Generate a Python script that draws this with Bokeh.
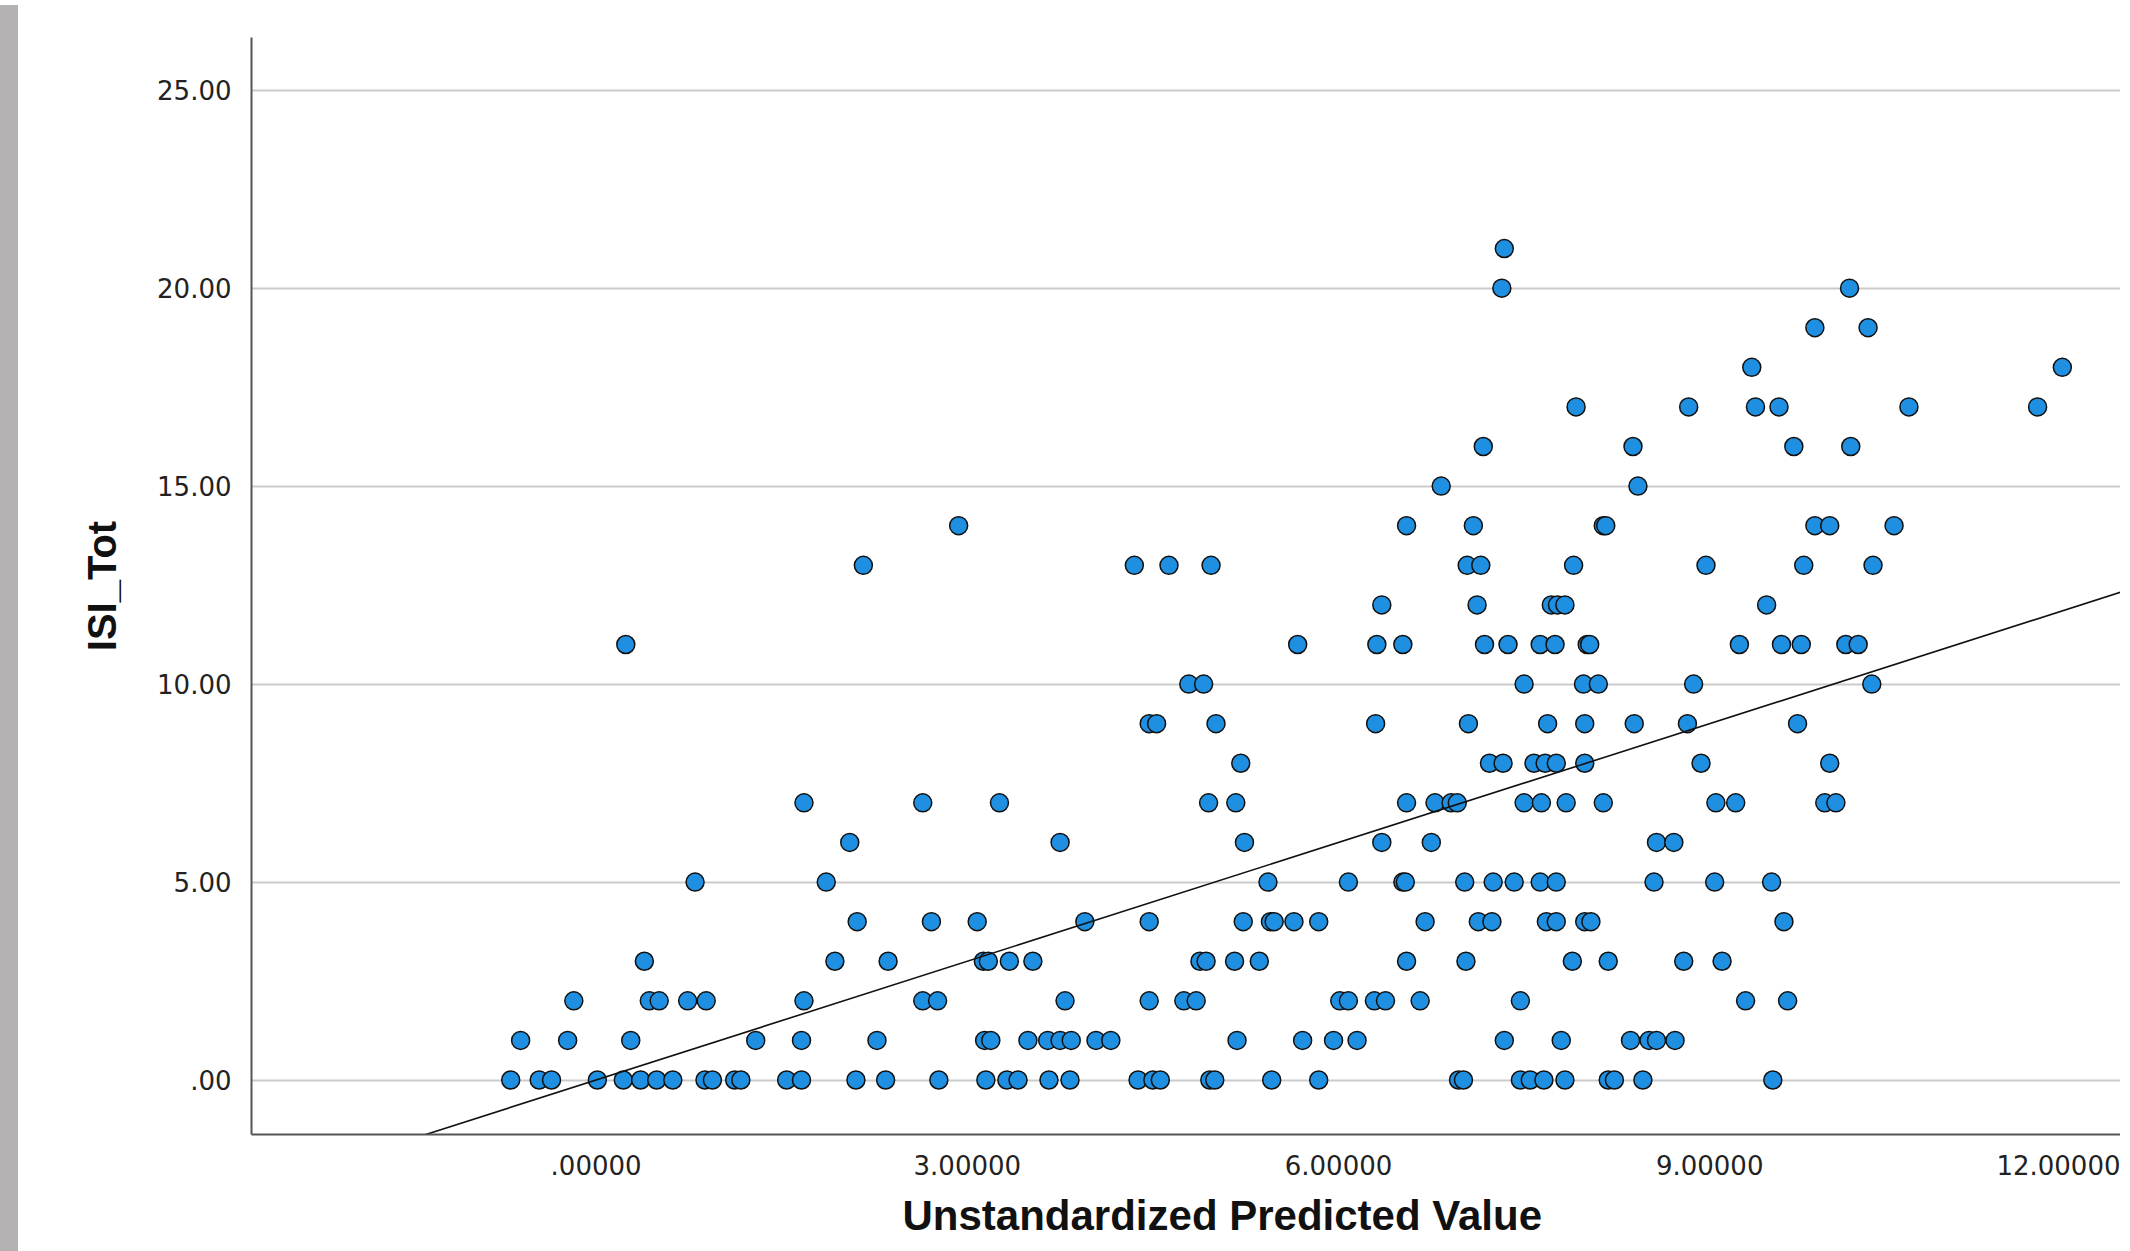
from bokeh.plotting import figure
from bokeh.models import FixedTicker, Range1d, Div, ColumnDataSource, Title
from bokeh.layouts import row
from bokeh.embed import file_html
from bokeh.resources import INLINE

# Unstandardized predicted values, grouped by observed ISI_Tot score
PRED_ISI_0 = [-0.69, -0.46, -0.36, 0.01, 0.22, 0.36, 0.49, 0.62, 0.88, 0.94, 1.12, 1.17,
              1.54, 1.66, 2.10, 2.34, 2.77, 3.15, 3.32, 3.41, 3.66, 3.83, 4.38, 4.50,
              4.56, 4.96, 5.00, 5.46, 5.84, 6.97, 7.01, 7.47, 7.55, 7.66, 7.83, 8.18,
              8.23, 8.46, 9.51]
PRED_ISI_1 = [-0.61, -0.23, 0.28, 1.29, 1.66, 2.27, 3.14, 3.19, 3.49, 3.65, 3.75, 3.84,
              4.04, 4.16, 5.18, 5.71, 5.96, 6.15, 7.34, 7.80, 8.36, 8.51, 8.57, 8.72]
PRED_ISI_2 = [-0.18, 0.43, 0.51, 0.74, 0.89, 1.68, 2.64, 2.76, 3.79, 4.47, 4.75, 4.85,
              6.01, 6.08, 6.29, 6.38, 6.66, 7.47, 9.29, 9.63]
PRED_ISI_3 = [0.39, 1.93, 2.36, 3.13, 3.17, 3.34, 3.53, 4.88, 4.93, 5.16, 5.36, 6.55,
              7.03, 7.89, 8.18, 8.79, 9.10]
PRED_ISI_4 = [2.11, 2.71, 3.08, 3.95, 4.47, 5.23, 5.45, 5.48, 5.64, 5.84, 6.70, 7.13,
              7.24, 7.68, 7.76, 7.99, 8.04, 9.60]
PRED_ISI_5 = [0.80, 1.86, 5.43, 6.08, 6.52, 6.54, 7.02, 7.25, 7.42, 7.63, 7.76, 8.55,
              9.04, 9.50]
PRED_ISI_6 = [2.05, 3.75, 5.24, 6.35, 6.75, 8.57, 8.71]
PRED_ISI_7 = [1.68, 2.64, 3.26, 4.95, 5.17, 6.55, 6.78, 6.91, 6.96, 7.50, 7.64, 7.84,
              8.14, 9.05, 9.21, 9.93, 10.02]
PRED_ISI_8 = [5.21, 7.22, 7.33, 7.58, 7.67, 7.76, 7.99, 8.93, 9.97]
PRED_ISI_9 = [4.47, 4.53, 5.01, 6.30, 7.05, 7.69, 7.99, 8.39, 8.82, 9.71]
PRED_ISI_10 = [4.79, 4.91, 7.50, 7.98, 8.10, 8.87, 10.31]
PRED_ISI_11 = [0.24, 5.67, 6.31, 6.52, 7.18, 7.37, 7.63, 7.75, 8.01, 8.03, 9.24, 9.58,
               9.74, 10.10, 10.20]
PRED_ISI_12 = [6.35, 7.12, 7.72, 7.77, 7.83, 9.46]
PRED_ISI_13 = [2.16, 4.35, 4.63, 4.97, 7.04, 7.15, 7.90, 8.97, 9.76, 10.32]
PRED_ISI_14 = [2.93, 6.55, 7.09, 8.14, 8.16, 9.85, 9.97, 10.49]
PRED_ISI_15 = [6.83, 8.42]
PRED_ISI_16 = [7.17, 8.38, 9.68, 10.14]
PRED_ISI_17 = [7.92, 8.83, 9.37, 9.56, 10.61, 11.65]
PRED_ISI_18 = [9.34, 11.85]
PRED_ISI_19 = [9.85, 10.28]
PRED_ISI_20 = [7.32, 10.13]
PRED_ISI_21 = [7.34]

SCORES = list(range(22))
PRED_LISTS = [PRED_ISI_0, PRED_ISI_1, PRED_ISI_2, PRED_ISI_3, PRED_ISI_4, PRED_ISI_5,
              PRED_ISI_6, PRED_ISI_7, PRED_ISI_8, PRED_ISI_9, PRED_ISI_10, PRED_ISI_11,
              PRED_ISI_12, PRED_ISI_13, PRED_ISI_14, PRED_ISI_15, PRED_ISI_16,
              PRED_ISI_17, PRED_ISI_18, PRED_ISI_19, PRED_ISI_20, PRED_ISI_21]

X_TICKS = [0, 3, 6, 9, 12]
X_TICK_LABELS = [".00000", "3.00000", "6.00000", "9.00000", "12.00000"]
Y_TICKS = [0, 5, 10, 15, 20, 25]
Y_TICK_LABELS = [".00", "5.00", "10.00", "15.00", "20.00", "25.00"]

X_TITLE = "Unstandardized Predicted Value"
Y_TITLE = "ISI_Tot"

FIT_SLOPE = 1.0
FIT_INTERCEPT = 0.0

X_MIN, X_MAX = -2.785, 12.32
Y_MIN, Y_MAX = -1.376, 26.33

xs, ys = [], []
for score, preds in zip(SCORES, PRED_LISTS):
    for v in preds:
        xs.append(v)
        ys.append(score)
src = ColumnDataSource(data=dict(x=xs, y=ys))

p = figure(width=2097, height=1251, output_backend="svg", toolbar_location=None,
           x_range=Range1d(X_MIN, X_MAX), y_range=Range1d(Y_MIN, Y_MAX),
           min_border_left=228, min_border_right=0, min_border_top=37,
           min_border_bottom=117)
p.outline_line_color = None
p.background_fill_color = "white"
p.border_fill_color = "white"

p.xgrid.visible = False
p.ygrid.ticker = FixedTicker(ticks=Y_TICKS)
p.ygrid.grid_line_color = "#cbcbcb"
p.ygrid.grid_line_width = 2

for ax in (p.xaxis[0], p.yaxis[0]):
    ax.axis_line_color = "#555555"
    ax.axis_line_width = 2
    ax.major_tick_line_color = None
    ax.minor_tick_line_color = None
    ax.major_label_text_font = "DejaVu Sans"
    ax.major_label_text_font_size = "26px"
    ax.major_label_text_color = "#222222"
    ax.major_label_standoff = 14
    ax.axis_label_text_font = "Liberation Sans"
    ax.axis_label_text_font_style = "bold"
    ax.axis_label_text_font_size = "40px"
    ax.axis_label_text_color = "#111111"

p.xaxis.ticker = FixedTicker(ticks=X_TICKS)
p.xaxis.major_label_overrides = dict(zip(X_TICKS, X_TICK_LABELS))
p.yaxis.ticker = FixedTicker(ticks=Y_TICKS)
p.yaxis.major_label_overrides = dict(zip(Y_TICKS, Y_TICK_LABELS))
p.yaxis.axis_label = Y_TITLE
p.yaxis.axis_label_standoff = 30

# x-axis title below the tick labels, shifted right (the original plot is cropped on the right)
x_title = Title(text=X_TITLE, align="left", offset=651, standoff=24,
                text_font="Liberation Sans", text_font_style="bold",
                text_font_size="42px", text_color="#111111")
p.add_layout(x_title, "below")

p.scatter("x", "y", source=src, size=18, marker="circle",
          fill_color="#1E8FE1", line_color="#111111", line_width=1.5)

line_x = [X_MIN, X_MAX]
line_y = [FIT_INTERCEPT + FIT_SLOPE * v for v in line_x]
p.line(line_x, line_y, line_color="#111111", line_width=1.6)

strip = Div(width=26, height=1251, styles={"background-color": "#b4b2b2",
                                           "margin-left": "-8px"})
layout = row(strip, p)

open("out.html", "w").write(file_html(layout, INLINE))
